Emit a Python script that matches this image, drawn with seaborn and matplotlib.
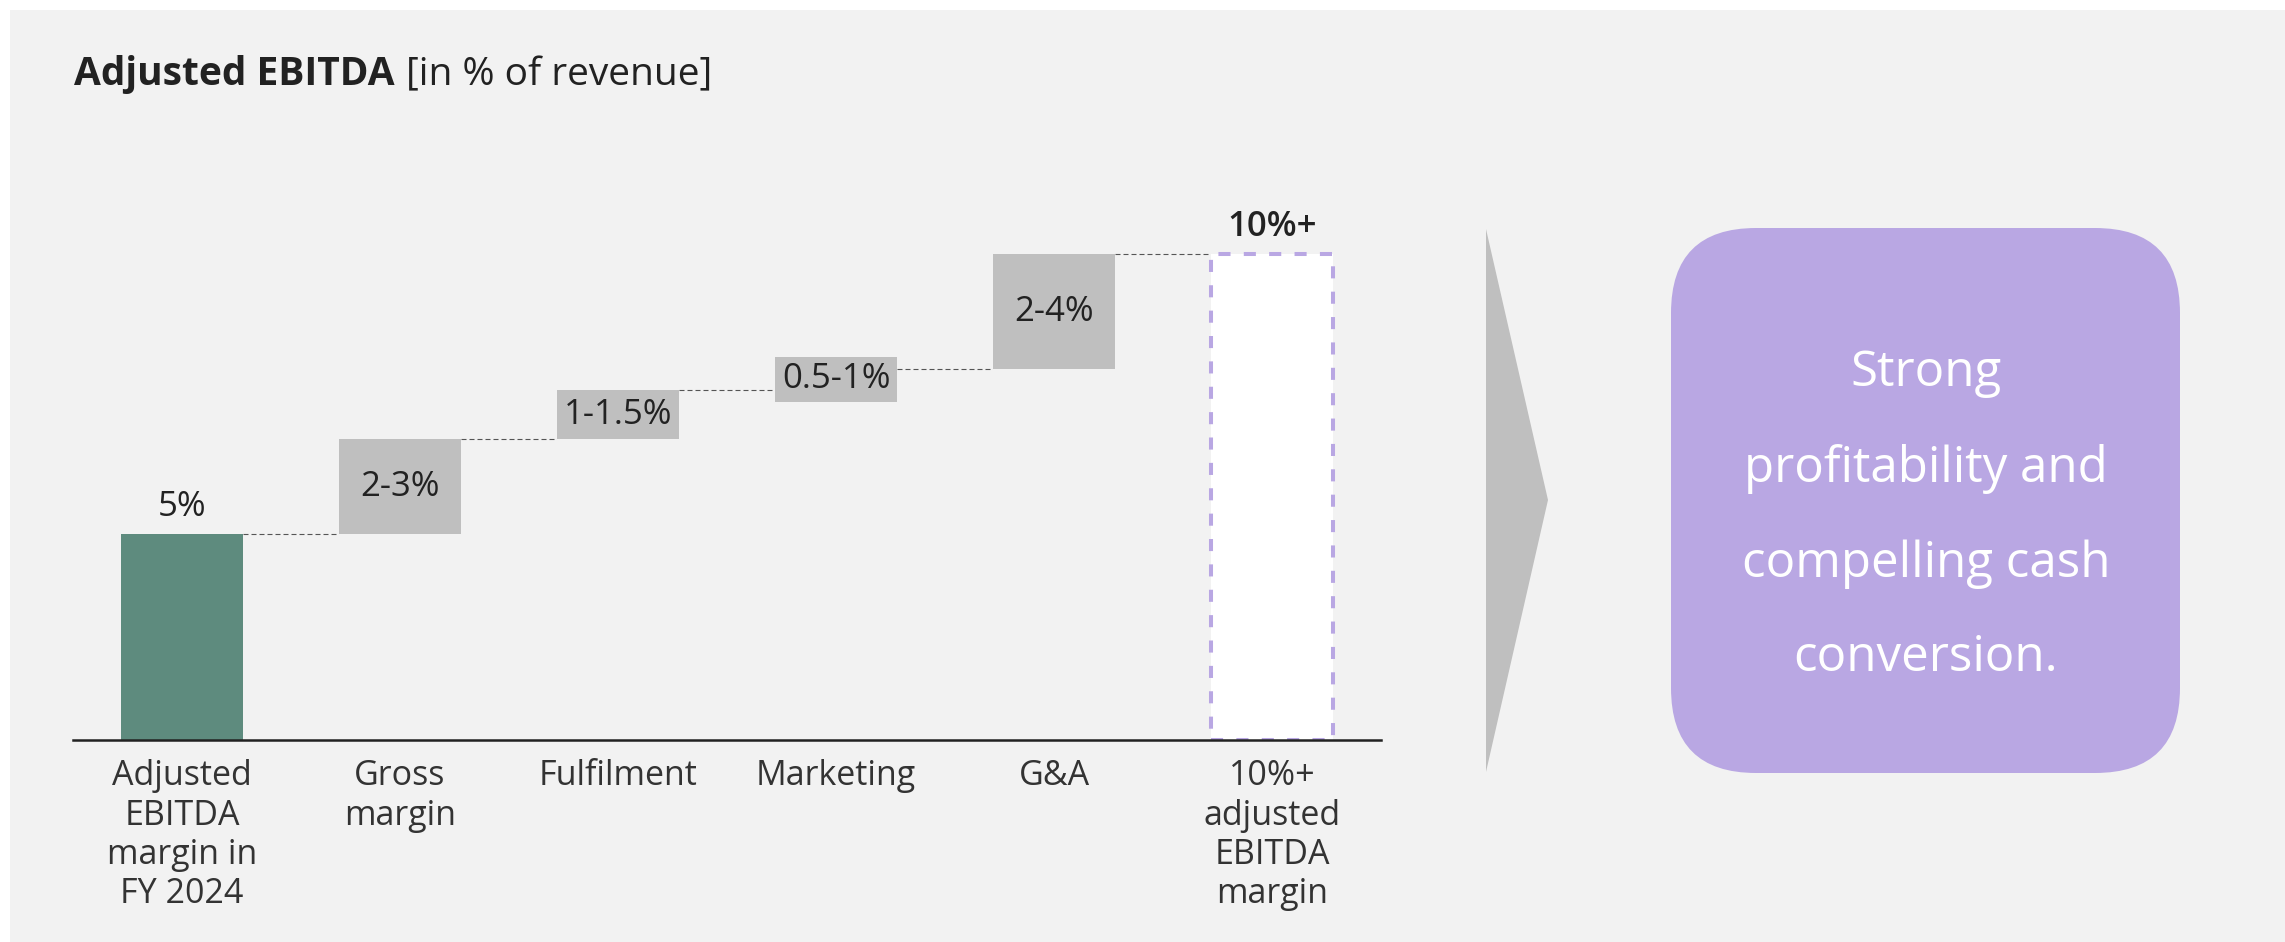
import matplotlib
matplotlib.use("Agg")
import matplotlib.pyplot as plt
import seaborn as sns
import numpy as np
from matplotlib.patches import Rectangle, Polygon, FancyBboxPatch

# ---------------- data ----------------
categories = ["Adjusted\nEBITDA\nmargin in\nFY 2024", "Gross\nmargin", "Fulfilment",
              "Marketing", "G&A", "10%+\nadjusted\nEBITDA\nmargin"]
start_value = 5.0
step_values = [2.3, 1.2, 0.5, 2.8]
value_labels = ["5%", "2-3%", "1-1.5%", "0.5-1%", "2-4%", "10%+"]
title_bold = "Adjusted EBITDA"
title_rest = "[in % of revenue]"
callout_text = "Strong\nprofitability and\ncompelling cash\nconversion."

# ---------------- style ----------------
sns.set_theme(style="white")
plt.rcParams["font.family"] = ["Open Sans", "DejaVu Sans"]

W, H = 2285, 942
GREEN = "#5e8b7e"
GREY = "#bfbfbf"
PURPLE = "#b9a7e3"
BG = "#f2f2f2"
TXT = "#333333"
DARK = "#222222"

fig = plt.figure(figsize=(W / 100, H / 100), dpi=100)
fig.patch.set_facecolor("white")

# overlay axes in pixel coordinates
bg = fig.add_axes([0, 0, 1, 1], zorder=0)
bg.set_xlim(0, W)
bg.set_ylim(H, 0)
bg.axis("off")
bg.add_patch(Rectangle((10, 10), W - 10, H - 10, facecolor=BG, edgecolor="none"))

# chart axes
px_per_unit = 41.2
ax_left, ax_right, ax_base, ax_top = 73, 1381, 740, 140
ax = fig.add_axes([ax_left / W, (H - ax_base) / H, (ax_right - ax_left) / W,
                   (ax_base - ax_top) / H], zorder=1)
ax.patch.set_alpha(0)

cum = np.cumsum([start_value] + step_values)
total = cum[-1]
tops = list(cum) + [total]
bottoms = [0.0] + list(cum[:-1]) + [0.0]
heights = [t - b for t, b in zip(tops, bottoms)]

# minimum visible box height for small steps (label boxes)
min_h = 1.07
disp_bottoms, disp_heights = [], []
for i, (b, h) in enumerate(zip(bottoms, heights)):
    if 0 < i < len(heights) - 1 and h < min_h:
        c = b + h / 2
        disp_bottoms.append(c - min_h / 2)
        disp_heights.append(min_h)
    else:
        disp_bottoms.append(b)
        disp_heights.append(h)

bar_w = 0.56
sns.barplot(x=categories, y=disp_heights, bottom=np.array(disp_bottoms), order=categories,
            width=bar_w, color=GREY, saturation=1, ax=ax, zorder=2)

colors = [GREEN] + [GREY] * len(step_values) + ["white"]
for i, (p, c) in enumerate(zip(ax.patches, colors)):
    p.set_facecolor(c)
    p.set_linewidth(0)
    if i == len(colors) - 1:
        p.set_edgecolor(PURPLE)
        p.set_linewidth(2.9)
        p.set_linestyle((0, (3, 3.3)))

# connectors
for i in range(len(cum)):
    ax.hlines(cum[i], i + bar_w / 2, i + 1 - bar_w / 2, colors="#555555",
              linewidth=0.8, linestyles=(0, (4.5, 2.7)), zorder=1)

# value labels
for i, lab in enumerate(value_labels):
    if i == 0 or i == len(value_labels) - 1:
        ax.annotate(lab, (i, tops[i]), xytext=(0, 27), textcoords="offset pixels",
                    ha="center", va="center", fontsize=25,
                    color=DARK, fontweight="semibold" if i else "normal")
    else:
        ax.text(i, disp_bottoms[i] + disp_heights[i] / 2, lab, ha="center", va="center",
                fontsize=25, color=DARK)

ax.set_xlim(-0.5, len(categories) - 0.5)
ax.set_ylim(0, (ax_base - ax_top) / px_per_unit)
ax.set_yticks([])
ax.set_xticks(range(len(categories)))
ax.set_xticklabels(categories, fontsize=24.5, color=TXT, linespacing=1.2)
ax.tick_params(axis="x", length=0, pad=14)
ax.set_xlabel("")
ax.set_ylabel("")
for s in ["top", "left", "right"]:
    ax.spines[s].set_visible(False)
ax.spines["bottom"].set_color(DARK)
ax.spines["bottom"].set_linewidth(1.8)
ax.spines["bottom"].set_zorder(3)

# arrow
bg.add_patch(Polygon([(1486, 229), (1548, 500), (1486, 772)], closed=True,
                     facecolor=GREY, edgecolor="none"))
# callout box
bg.add_patch(FancyBboxPatch((1671, 228), 509, 545,
                            boxstyle="round,pad=0,rounding_size=85",
                            facecolor=PURPLE, edgecolor="none"))
bg.text(1926, 516, callout_text, ha="center", va="center", fontsize=35.5,
        color="white", linespacing=2.2)

# title
t1 = bg.text(74, 85, title_bold, ha="left", va="baseline", fontsize=28,
             fontweight="bold", color=DARK)
renderer = fig.canvas.get_renderer()
bb = t1.get_window_extent(renderer)
bg.text(bb.x1 + 11, 85, title_rest, ha="left", va="baseline", fontsize=28,
        color=DARK)

fig.savefig("out.png", dpi=100, facecolor=fig.get_facecolor())
